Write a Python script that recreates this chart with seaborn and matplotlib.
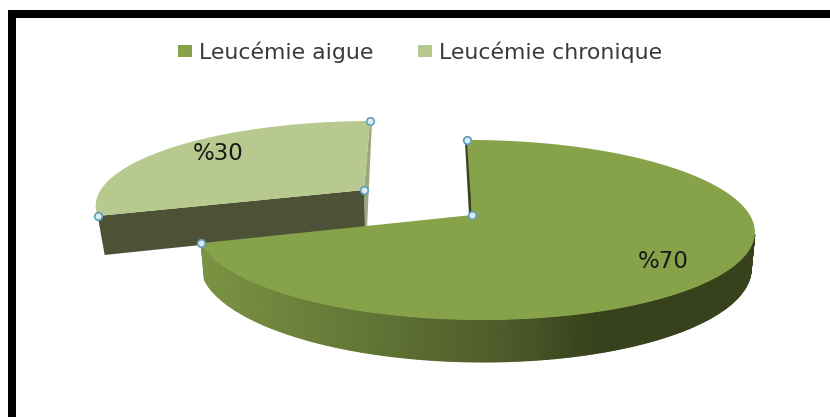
import numpy as np
import matplotlib
matplotlib.use("Agg")
import matplotlib.pyplot as plt
from matplotlib.colors import LinearSegmentedColormap
from matplotlib.patches import Patch, Polygon, Rectangle
import seaborn as sns

# Chart data
categories = ["Leucémie aigue", "Leucémie chronique"]
shares = [70, 30]
share_labels = ["%70", "%30"]
slice_colors = ["#86a34a", "#b7c98e"]

sns.set_theme(style="white")
plt.rcParams["font.family"] = ["DejaVu Sans"]

fig = plt.figure(figsize=(8.30, 4.17), dpi=100)
ax = fig.add_axes([0, 0, 1, 1])

# Slice angles follow the shares, clockwise from twelve o'clock
sweeps = np.array(shares) / sum(shares) * 360.0
big_start, big_end = 90.0, 90.0 - sweeps[0]
small_start, small_end = big_end, big_end - sweeps[1]


def project(theta_deg, centre, w, h, shear, k=1 / 6, j=-0.01, drop=0.0):
    """Perspective projection of a tilted disc onto the canvas."""
    t = np.radians(theta_deg)
    cx, sy = np.cos(t), np.sin(t)
    denom = 1 + k * sy + j * cx
    return (centre[0] + (w * cx + shear * sy) / denom,
            centre[1] + (-h * sy + drop) / denom)


big = dict(centre=(472, 215), w=275, h=87.5, shear=-6)
small = dict(centre=(364, 190), w=266, h=80.5, shear=7)

# Detached slice: straight wall, thin side edge, then the top face
sx, sy = project(np.linspace(small_start, small_end, 120), **small)
px, py = small["centre"]
ax.add_patch(Polygon([(px, py), (sx[0], sy[0]), (sx[0] + 7, sy[0] + 39), (px + 1, py + 38)],
                     closed=True, fc="#4d5237", ec="none", zorder=2))
ax.add_patch(Polygon([(sx[-1], sy[-1]), (px, py), (px + 1, py + 38), (px + 3, py + 38),
                      (sx[-1] + 2, sy[-1])],
                     closed=True, fc="#9aa97c", ec="none", zorder=1))
ax.add_patch(Polygon(np.column_stack([np.r_[px, sx], np.r_[py, sy]]),
                     closed=True, fc=slice_colors[1], ec="none", zorder=3))

# Main slice: outer wall with a smooth left-to-right shading
cx0, cy0 = big["centre"]
wall_cmap = LinearSegmentedColormap.from_list(
    "wall", [(0, "#7b9443"), (0.55, "#4e5c2b"), (0.72, "#37421c"), (1, "#37421c")])
wall_angles = np.linspace(big_end, -12, 200)
top_x, top_y = project(wall_angles, **big)
low_x, low_y = project(wall_angles, **big, drop=35)
low_x = cx0 + (low_x - cx0) * 0.987
mesh_x = np.vstack([top_x, low_x])
mesh_y = np.vstack([top_y, low_y])
ax.pcolormesh(mesh_x, mesh_y, np.clip((mesh_x - 200) / 550, 0, 1), cmap=wall_cmap,
              vmin=0, vmax=1, shading="gouraud", zorder=4)

# Thin dark wall along the main slice's upright edge
tx0, ty0 = project(big_start, **big)
ax.add_patch(Polygon([(tx0 - 2, ty0), (tx0 + 2, ty0), (cx0, cy0), (cx0 - 3, cy0)],
                     closed=True, fc="#3a4420", ec="none", zorder=4))

bx, by = project(np.linspace(big_start, big_end, 300), **big)
ax.add_patch(Polygon(np.column_stack([np.r_[cx0, bx], np.r_[cy0, by]]),
                     closed=True, fc=slice_colors[0], ec="none", zorder=5))

# Selection handles on the slice corners
handles_x = [bx[0], cx0, bx[-1], sx[0], sx[-1], px]
handles_y = [by[0], cy0, by[-1], sy[0], sy[-1], py]
sns.scatterplot(x=handles_x, y=handles_y, s=30, color="#dcebf3", edgecolor="#5f9dbd",
                linewidth=1.2, zorder=6, ax=ax, legend=False)

# Percentage labels
ax.text(663, 262, share_labels[0], ha="center", va="center", fontsize=16.5, color="#1a1a1a", zorder=7)
ax.text(218, 153, share_labels[1], ha="center", va="center", fontsize=16.5, color="#1a1a1a", zorder=7)

# Heavy frame on the top and left sides only
ax.add_patch(Rectangle((8, 10), 822, 8, fc="black", ec="none", zorder=8))
ax.add_patch(Rectangle((8, 10), 8, 407, fc="black", ec="none", zorder=8))

ax.legend(
    handles=[Patch(fc=c, ec="none", label=n) for c, n in zip(slice_colors, categories)],
    loc="center", bbox_to_anchor=(420 / 830, 1 - 52 / 417), ncol=2, frameon=False,
    fontsize=15.8, labelcolor="#3a3a3a", handlelength=0.65, handleheight=0.5,
    handletextpad=0.33, columnspacing=2.0, borderpad=0)

ax.set_xlim(0, 830)
ax.set_ylim(417, 0)
ax.axis("off")

fig.savefig("out.png", dpi=100, facecolor="white")
